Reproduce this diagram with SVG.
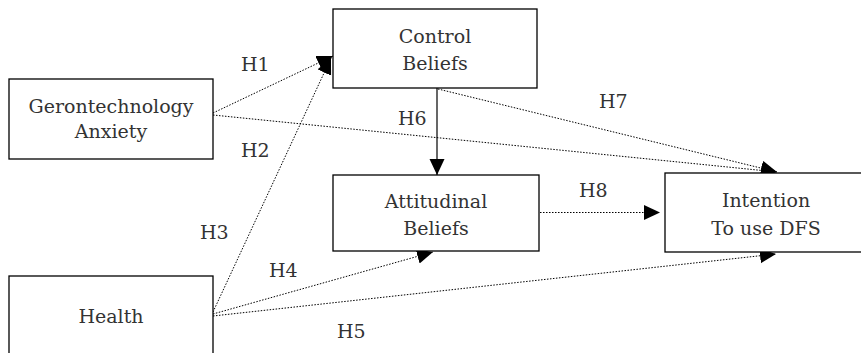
<svg xmlns="http://www.w3.org/2000/svg" width="861" height="353" viewBox="0 0 861 353">
<style>
.box{fill:#fff;stroke:#000;stroke-width:1.3}
.t{font-family:"DejaVu Serif",serif;font-size:19px;fill:#333;text-anchor:middle}
.lbl{font-family:"DejaVu Serif",serif;font-size:19px;fill:#333}
.dot{fill:none;stroke:#000;stroke-width:1;stroke-dasharray:1.5,1.5;marker-end:url(#ah)}
.solid{fill:none;stroke:#000;stroke-width:1.2;marker-end:url(#ah)}
</style>
<defs>
<marker id="ah" markerUnits="userSpaceOnUse" markerWidth="17" markerHeight="16" refX="16" refY="7.5" orient="auto">
<path d="M0,0 L16,7.5 L0,15 z" fill="#000"/>
</marker>
</defs>
<rect width="861" height="353" fill="#fff"/>
<g id="connectors">
<line class="dot" x1="213" y1="113" x2="333" y2="56"/>
<line class="dot" x1="213" y1="115" x2="777" y2="172"/>
<line class="dot" x1="213" y1="312" x2="331" y2="58"/>
<line class="dot" x1="213" y1="314" x2="433" y2="252"/>
<line class="dot" x1="213" y1="316" x2="776" y2="254"/>
<line class="solid" x1="437" y1="88" x2="437" y2="175"/>
<line class="dot" x1="438" y1="89" x2="777" y2="172"/>
<line class="dot" x1="540" y1="212.5" x2="660" y2="212.5"/>
</g>
<g id="labels">
<text class="lbl" x="241" y="71">H1</text>
<text class="lbl" x="241" y="157">H2</text>
<text class="lbl" x="200" y="239">H3</text>
<text class="lbl" x="269" y="277">H4</text>
<text class="lbl" x="337" y="338">H5</text>
<text class="lbl" x="398" y="125">H6</text>
<text class="lbl" x="599" y="108">H7</text>
<text class="lbl" x="579" y="197">H8</text>
</g>
<g id="control">
<rect class="box" x="333" y="9" width="204" height="79"/>
<text class="t" x="435" y="43">Control</text>
<text class="t" x="435" y="70">Beliefs</text>
</g>
<g id="geronto">
<rect class="box" x="9" y="79" width="204" height="80"/>
<text class="t" x="111" y="113">Gerontechnology</text>
<text class="t" x="111" y="138">Anxiety</text>
</g>
<g id="attitudinal">
<rect class="box" x="333" y="175" width="206" height="76"/>
<text class="t" x="436" y="208">Attitudinal</text>
<text class="t" x="436" y="235">Beliefs</text>
</g>
<g id="intention">
<rect class="box" x="665" y="173" width="202" height="79"/>
<text class="t" x="766" y="207">Intention</text>
<text class="t" x="766" y="235">To use DFS</text>
</g>
<g id="health">
<rect class="box" x="9" y="276" width="204" height="96"/>
<text class="t" x="111" y="323">Health</text>
</g>
</svg>
